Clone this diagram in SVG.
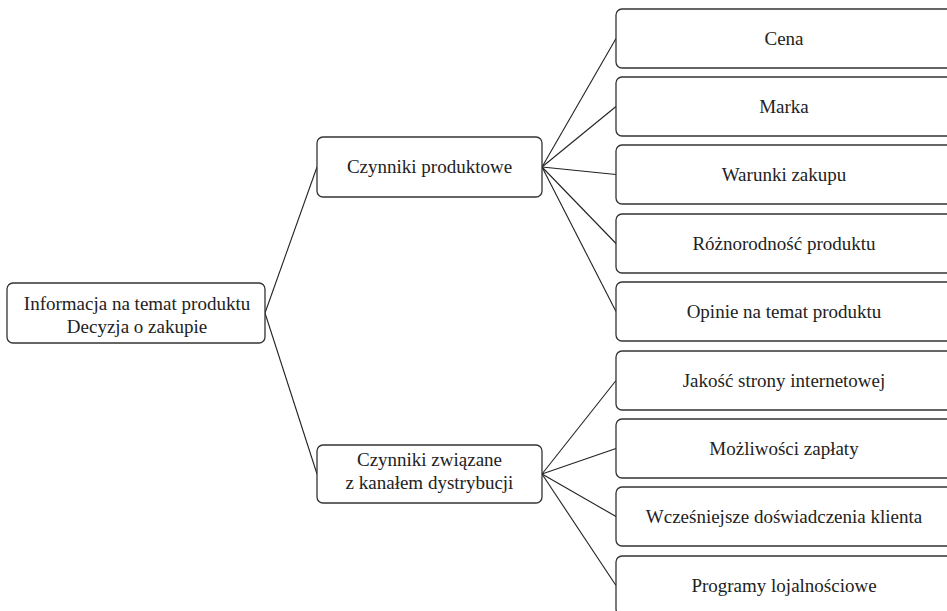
<svg xmlns="http://www.w3.org/2000/svg" width="947" height="611" viewBox="0 0 947 611">
<style>
.box{fill:#fff;stroke:#333;stroke-width:1.3}
.t{font-family:'Liberation Serif','Times New Roman','DejaVu Serif',serif;font-size:19px;fill:#222;text-anchor:middle}
.c{stroke:#222;stroke-width:1.1;fill:none}
</style>
<rect width="947" height="611" fill="#fff"/>
<g id="connectors">
<line class="c" x1="265" y1="313" x2="317" y2="167"/>
<line class="c" x1="265" y1="313" x2="317" y2="474"/>
<line class="c" x1="542" y1="167" x2="616" y2="38.5"/>
<line class="c" x1="542" y1="167" x2="616" y2="106.5"/>
<line class="c" x1="542" y1="167" x2="616" y2="174.5"/>
<line class="c" x1="542" y1="167" x2="616" y2="243.5"/>
<line class="c" x1="542" y1="167" x2="616" y2="311.5"/>
<line class="c" x1="542" y1="474" x2="616" y2="380.5"/>
<line class="c" x1="542" y1="474" x2="616" y2="448.5"/>
<line class="c" x1="542" y1="474" x2="616" y2="516.5"/>
<line class="c" x1="542" y1="474" x2="616" y2="585.5"/>
</g>
<g id="root" font-family="Liberation Serif, serif">
<rect class="box" x="7" y="283" width="258" height="60" rx="6"/>
<text class="t" x="137" y="310">Informacja na temat produktu</text>
<text class="t" x="137" y="333">Decyzja o zakupie</text>
</g>
<g id="produktowe">
<rect class="box" x="317" y="137" width="225" height="60" rx="6"/>
<text class="t" x="429.5" y="173">Czynniki produktowe</text>
</g>
<g id="dystrybucja">
<rect class="box" x="317" y="445" width="225" height="58" rx="6"/>
<text class="t" x="429.5" y="466">Czynniki związane</text>
<text class="t" x="429.5" y="489">z kanałem dystrybucji</text>
</g>
<g id="cena">
<rect class="box" x="616" y="9" width="340" height="59" rx="6"/>
<text class="t" x="784" y="45">Cena</text>
</g>
<g id="marka">
<rect class="box" x="616" y="77" width="340" height="59" rx="6"/>
<text class="t" x="784" y="113">Marka</text>
</g>
<g id="warunki">
<rect class="box" x="616" y="145" width="340" height="59" rx="6"/>
<text class="t" x="784" y="181">Warunki zakupu</text>
</g>
<g id="roznorodnosc">
<rect class="box" x="616" y="214" width="340" height="59" rx="6"/>
<text class="t" x="784" y="250">Różnorodność produktu</text>
</g>
<g id="opinie">
<rect class="box" x="616" y="282" width="340" height="59" rx="6"/>
<text class="t" x="784" y="318">Opinie na temat produktu</text>
</g>
<g id="jakosc">
<rect class="box" x="616" y="351" width="340" height="59" rx="6"/>
<text class="t" x="784" y="387">Jakość strony internetowej</text>
</g>
<g id="mozliwosci">
<rect class="box" x="616" y="419" width="340" height="59" rx="6"/>
<text class="t" x="784" y="455">Możliwości zapłaty</text>
</g>
<g id="wczesniejsze">
<rect class="box" x="616" y="487" width="340" height="59" rx="6"/>
<text class="t" x="784" y="523">Wcześniejsze doświadczenia klienta</text>
</g>
<g id="programy">
<rect class="box" x="616" y="556" width="340" height="59" rx="6"/>
<text class="t" x="784" y="592">Programy lojalnościowe</text>
</g>
</svg>
